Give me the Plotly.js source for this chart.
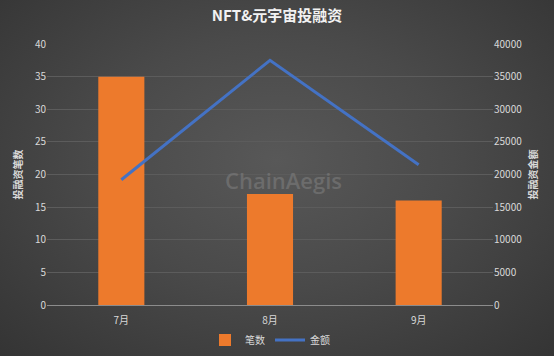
<!DOCTYPE html>
<html>
<head>
<meta charset="utf-8">
<script src="https://cdn.plot.ly/plotly-3.0.1.min.js"></script>
<style>
html,body{margin:0;padding:0;}
#chart{width:554px;height:356px;background:radial-gradient(ellipse at 50% 45%, #585858 0%, #4a4a4a 45%, #343434 100%);}
</style>
</head>
<body>
<div id="chart"></div>
<script>
const categories = ["7月", "8月", "9月"];
const countValues = [35, 17, 16];
const amountValues = [19200, 37500, 21500];
const leftTicks = [0, 5, 10, 15, 20, 25, 30, 35, 40];
const rightTicks = [0, 5000, 10000, 15000, 20000, 25000, 30000, 35000, 40000];
const rightTickLabels = ["0", "5000", "10000", "15000", "20000", "25000", "30000", "35000", "40000"];

const font = "Noto Sans CJK SC, sans-serif";
const data = [
  {type: "bar", name: "笔数", x: categories, y: countValues, yaxis: "y",
   marker: {color: "#ed7a2c", line: {width: 0}}, width: 0.31},
  {type: "scatter", mode: "lines", name: "金额", x: categories, y: amountValues, yaxis: "y2",
   line: {color: "#4472c4", width: 3}}
];
const layout = {
  width: 554, height: 356,
  paper_bgcolor: "rgba(0,0,0,0)", plot_bgcolor: "rgba(0,0,0,0)",
  margin: {l: 47, r: 61, t: 44, b: 51, autoexpand: false},
  font: {family: font, color: "#d9d9d9", size: 10},
  title: {text: "<b>NFT&元宇宙投融资</b>", font: {family: font, size: 15, color: "#f2f2f2"}, x: 0.5, xanchor: "center", y: 0.955, yanchor: "middle"},
  showlegend: true,
  legend: {orientation: "h", x: 0.5, xanchor: "center", yref: "container", y: 0.045, yanchor: "middle", font: {size: 10, color: "#d9d9d9"}, bgcolor: "rgba(0,0,0,0)", itemwidth: 30, tracegroupgap: 0},
  bargap: 0.69,
  xaxis: {type: "category", showgrid: false, showline: true, linecolor: "#8c8c8c", linewidth: 1, ticks: "", tickfont: {size: 10, color: "#d9d9d9"}, ticklabelstandoff: 6},
  yaxis: {range: [0, 40], tickvals: leftTicks, showgrid: true, gridcolor: "#5c5c5c", gridwidth: 1, zeroline: false, showline: false, ticks: "", tickfont: {size: 10, color: "#d9d9d9"},
          title: {text: "<b>投融资笔数</b>", font: {size: 10, color: "#d9d9d9"}, standoff: 10}},
  yaxis2: {range: [0, 40000], tickvals: rightTicks, ticktext: rightTickLabels, overlaying: "y", side: "right", showgrid: false, zeroline: false, showline: false, ticks: "", tickfont: {size: 10, color: "#d9d9d9"},
           title: {text: "<b>投融资金额</b>", font: {size: 10, color: "#d9d9d9"}, standoff: 8}},
  annotations: [
    {text: "ChainAegis", xref: "paper", yref: "paper", x: 0.53, y: 0.48, xanchor: "center", yanchor: "middle", showarrow: false,
     font: {family: "Open Sans, sans-serif", size: 22, color: "rgba(125,125,125,0.6)", weight: 600}}
  ]
};
Plotly.newPlot("chart", data, layout, {displayModeBar: false, staticPlot: true});
</script>
</body>
</html>
